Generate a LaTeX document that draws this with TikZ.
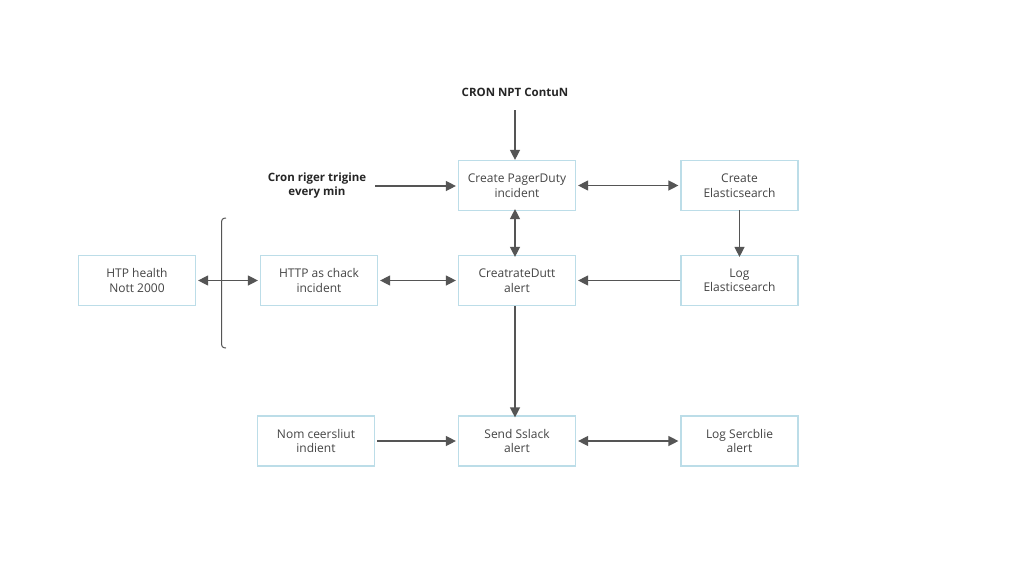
\documentclass[tikz,border=0pt]{standalone}
\usepackage{fontspec}
\setmainfont{Open Sans}
\usetikzlibrary{arrows.meta}
\definecolor{boxline}{HTML}{BCDDE8}
\definecolor{txt}{HTML}{444444}
\definecolor{arr}{HTML}{555555}
\begin{document}
\begin{tikzpicture}[x=1pt,y=-1pt,
  box/.style={draw=boxline,line width=1.2pt,fill=white,minimum width=117pt,minimum height=50pt,
    align=center,text=txt,font=\fontsize{12}{14.5}\selectfont,inner sep=0pt},
  lbl/.style={align=center,text=black!85,font=\bfseries\fontsize{11.5}{14}\selectfont,inner sep=1pt},
  link/.style={draw=arr,line width=1.3pt,-{Triangle[length=10pt,width=10pt]}},
  both/.style={link,{Triangle[length=10pt,width=10pt]}-{Triangle[length=10pt,width=10pt]}}]
\useasboundingbox (0,0) rectangle (1024,576);
\fill[white] (0,0) rectangle (1024,576);

% top labels
\node[lbl] (cron) at (515,92) {CRON NPT ContuN};
\node[lbl] (trig) at (317,186) {Cron riger trigine\\every min};

% boxes
\node[box] (pd) at (517,185.5) {Create PagerDuty\\incident};
\node[box] (ce) at (739.5,185.5) {Create\\Elasticsearch};
\node[box] (hh) at (137,280.5) {HTP health\\Nott 2000};
\node[box] (hc) at (319,280.5) {HTTP as chack\\incident};
\node[box] (cd) at (517,280.5) {CreatrateDutt\\alert};
\node[box] (le) at (739.5,280.5) {Log\\Elasticsearch};
\node[box] (nm) at (316,441) {Nom ceersliut\\indient};
\node[box] (ss) at (517,441) {Send Sslack\\alert};
\node[box] (ls) at (739.5,441) {Log Sercblie\\alert};

% bracket
\coordinate (bt) at (226,218);
\coordinate (bb) at (226,348);
\draw[arr,line width=1pt] (bt) .. controls (222,218) and (221.5,220) .. (221.5,224)
  -- (221.5,342) .. controls (221.5,346) and (222,348) .. (bb);

% connectors
\coordinate (c1) at (515,110);
\draw[link] (c1) -- (c1 |- pd.north);
\draw[link] (trig.east) ++(8,0) coordinate (t1) -- ([xshift=-2pt]t1 -| pd.west);
\draw[both] ([xshift=2pt]pd.east) -- ([xshift=-2pt]ce.west);
\draw[both] ([xshift=-2pt,yshift=2pt]pd.south) -- ([xshift=-2pt,yshift=-2pt]cd.north);
\draw[link] ([yshift=1pt]ce.south) -- ([yshift=-2pt]le.north);
\draw[link] (le.west) -- ([xshift=2pt]cd.east);
\draw[both] ([xshift=2pt]hc.east) -- ([xshift=-2pt]cd.west);
\draw[both] ([xshift=2pt]hh.east) -- ([xshift=-2pt]hc.west);
\draw[link] ([xshift=-2pt]cd.south) -- ([xshift=-2pt,yshift=-2pt]ss.north);
\draw[link] ([xshift=2pt]nm.east) -- ([xshift=-2pt]ss.west);
\draw[both] ([xshift=2pt]ss.east) -- ([xshift=-2pt]ls.west);
\end{tikzpicture}
\end{document}
